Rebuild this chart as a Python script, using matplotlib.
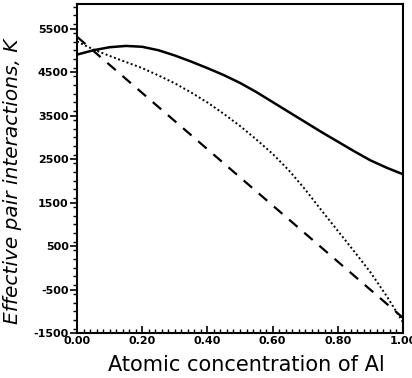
import numpy as np
import matplotlib
matplotlib.use("Agg")
import matplotlib.pyplot as plt
from matplotlib.ticker import MultipleLocator

# concentration grid and curve values (K)
conc = [0.00, 0.05, 0.10, 0.15, 0.20, 0.25, 0.30, 0.35, 0.40, 0.45, 0.50,
        0.55, 0.60, 0.65, 0.70, 0.75, 0.80, 0.85, 0.90, 0.95, 1.00]
solid_vals = [4900, 5000, 5070, 5100, 5080, 5000, 4880, 4740, 4590, 4430, 4250,
              4040, 3810, 3580, 3350, 3120, 2900, 2680, 2470, 2300, 2150]
dotted_vals = [5200, 5020, 4870, 4730, 4590, 4420, 4240, 4030, 3800, 3540, 3260,
               2950, 2620, 2240, 1800, 1320, 850, 380, -100, -650, -1250]
dashed_conc = [0.00, 1.00]
dashed_vals = [5310, -1150]

xticks = [0.0, 0.2, 0.4, 0.6, 0.8, 1.0]
yticks = [-1500, -500, 500, 1500, 2500, 3500, 4500, 5500]

fig = plt.figure(figsize=(4.12, 3.78), dpi=100)
ax = fig.add_axes([0.187, 0.119, 0.791, 0.870])

ax.plot(conc, solid_vals, color="black", lw=1.8, solid_capstyle="round")
ax.plot(conc, dotted_vals, color="black", lw=1.4, linestyle=(0, (1.0, 1.3)))
ax.plot(dashed_conc, dashed_vals, color="black", lw=1.6, linestyle=(0, (5, 4)))

ax.set_xlim(0, 1.0)
ax.set_ylim(-1500, 6060)

ax.set_xticks(xticks)
ax.set_xticklabels([f"{t:.2f}" for t in xticks])
ax.xaxis.set_minor_locator(MultipleLocator(0.02))
ax.set_yticks(yticks)
ax.set_yticklabels([str(t) for t in yticks])
ax.yaxis.set_minor_locator(MultipleLocator(200))

ax.tick_params(axis="x", which="major", direction="in", length=5, width=1.2,
               labelsize=8, pad=2)
ax.tick_params(axis="x", which="minor", direction="in", length=3, width=1.0)
ax.tick_params(axis="y", which="major", direction="out", length=5, width=1.2,
               labelsize=8, pad=1)
ax.tick_params(axis="y", which="minor", direction="out", length=3, width=1.0)
for lab in ax.get_xticklabels() + ax.get_yticklabels():
    lab.set_fontweight("bold")

for sp in ax.spines.values():
    sp.set_linewidth(1.5)

ax.set_xlabel("Atomic concentration of Al", fontsize=15)
ax.xaxis.set_label_coords(0.52, -0.066)
ax.set_ylabel("Effective pair interactions, K", fontsize=14.5, style="italic")
ax.yaxis.set_label_coords(-0.17, 0.46)

fig.savefig("out.png", dpi=100)
